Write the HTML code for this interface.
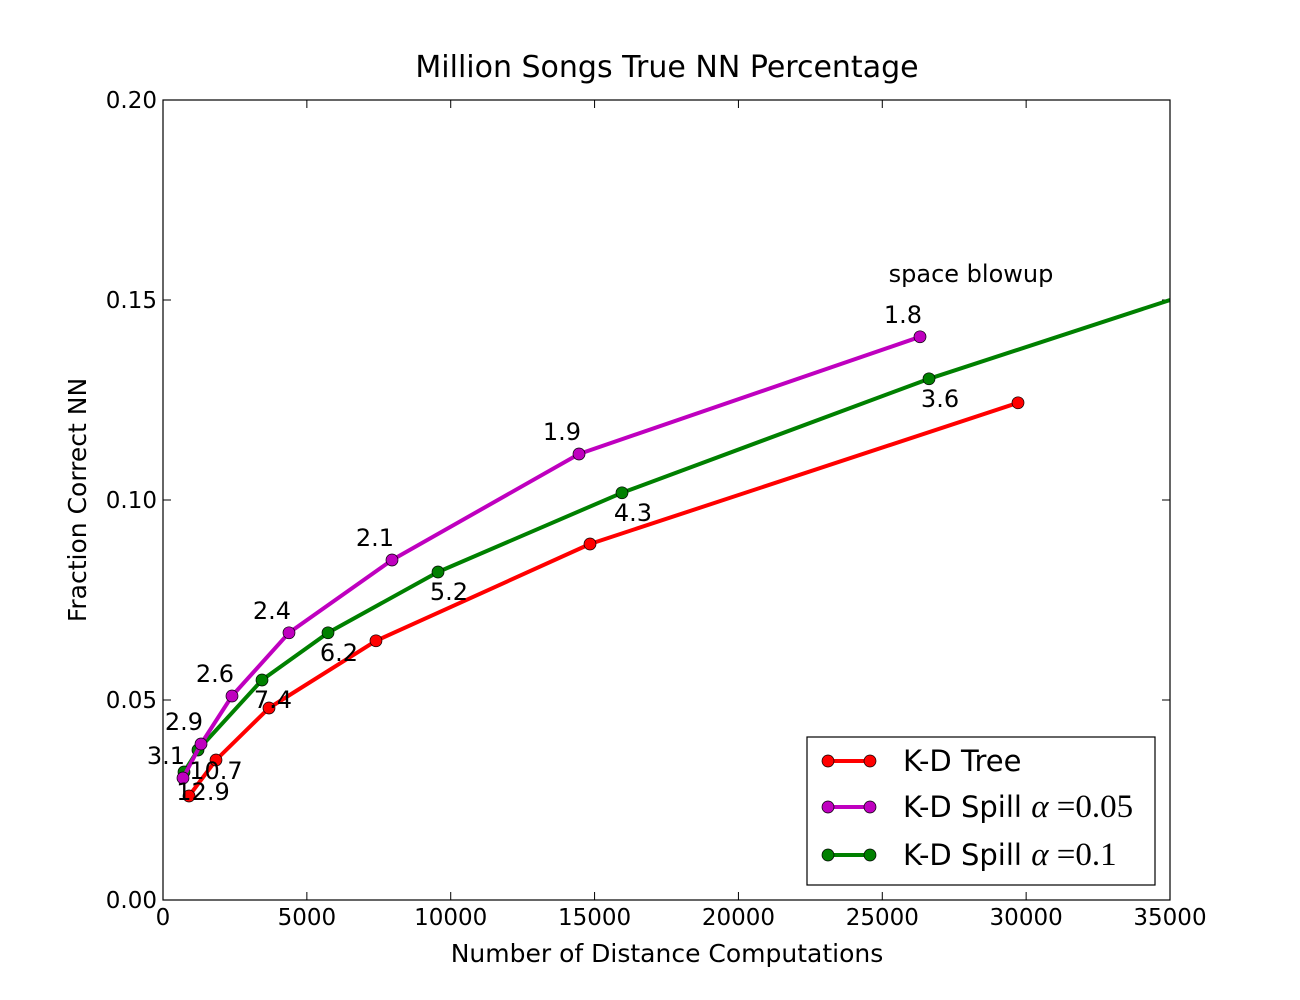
<!DOCTYPE html>
<html><head><meta charset="utf-8"><style>
body{margin:0;background:#fff;}
svg{display:block;font-family:"DejaVu Sans","Liberation Sans",sans-serif;}
</style></head><body>
<svg id="chart" width="1300" height="1000">
<rect x="0" y="0" width="1300" height="1000" fill="#fff"/>
<defs><clipPath id="clip"><rect x="163" y="100" width="1007" height="800"/></clipPath></defs>
<text x="667" y="77" font-size="30" text-anchor="middle">Million Songs True NN Percentage</text>
<text x="667" y="962" font-size="25" text-anchor="middle">Number of Distance Computations</text>
<text x="0" y="0" font-size="25" text-anchor="middle" transform="translate(86,500) rotate(-90)">Fraction Correct NN</text>
<g id="axes"></g>
<g id="series" clip-path="url(#clip)"></g>
<g id="labels"></g>
<rect x="163" y="100" width="1007" height="800" fill="none" stroke="#000" stroke-width="1.2"/>
<text x="971" y="282" font-size="24" text-anchor="middle">space blowup</text>
<g>
<rect x="807" y="737" width="348" height="148" fill="#fff" stroke="#000" stroke-width="1.2"/>
<g><line x1="828" y1="761" x2="870" y2="761" stroke="#ff0000" stroke-width="4"/><circle cx="828" cy="761" r="6" fill="#ff0000" stroke="#000" stroke-width="0.7"/><circle cx="870" cy="761" r="6" fill="#ff0000" stroke="#000" stroke-width="0.7"/><text x="903" y="771" font-size="29">K-D Tree</text></g>
<g><line x1="828" y1="807" x2="870" y2="807" stroke="#bf00bf" stroke-width="4"/><circle cx="828" cy="807" r="6" fill="#bf00bf" stroke="#000" stroke-width="0.7"/><circle cx="870" cy="807" r="6" fill="#bf00bf" stroke="#000" stroke-width="0.7"/><text x="903" y="817" font-size="29">K-D Spill <tspan font-family="Liberation Serif,serif" font-style="italic" font-size="33">α</tspan><tspan font-family="Liberation Serif,serif" font-size="33"> =0.05</tspan></text></g>
<g><line x1="828" y1="855" x2="870" y2="855" stroke="#008000" stroke-width="4"/><circle cx="828" cy="855" r="6" fill="#008000" stroke="#000" stroke-width="0.7"/><circle cx="870" cy="855" r="6" fill="#008000" stroke="#000" stroke-width="0.7"/><text x="903" y="865" font-size="29">K-D Spill <tspan font-family="Liberation Serif,serif" font-style="italic" font-size="33">α</tspan><tspan font-family="Liberation Serif,serif" font-size="33"> =0.1</tspan></text></g>
</g>
</svg>
<script>
const xTicks=[0,5000,10000,15000,20000,25000,30000,35000];
const yTicks=[0,0.05,0.10,0.15,0.20];
const yTickLabels=["0.00","0.05","0.10","0.15","0.20"];
const redX=[904,1842,3684,7403,14841,29717];
const redY=[0.026,0.035,0.048,0.0648,0.089,0.1243];
const redLabels=["12.9","10.7","7.4","","",""];
const magX=[695,1321,2398,4379,7959,14459,26311];
const magY=[0.0305,0.039,0.051,0.0668,0.085,0.1115,0.1408];
const magLabels=["3.1","2.9","2.6","2.4","2.1","1.9","1.8"];
const grnX=[730,1216,3441,5735,9558,15953,26624];
const grnY=[0.032,0.0375,0.055,0.0668,0.082,0.1018,0.1303];
const grnLabels=["","","","6.2","5.2","4.3","3.6"];
const grnExtX=[26624,35000];
const grnExtY=[0.1303,0.15];
const redDx=[14,0,4], redDy=[4,19,0];
const X=v=>163+v/35000*1007, Y=v=>900-v/0.2*800;
const NS="http://www.w3.org/2000/svg";
function mk(t,a,p){const e=document.createElementNS(NS,t);for(const k in a)e.setAttribute(k,a[k]);p.appendChild(e);return e;}
const ax=document.getElementById('axes'),sg=document.getElementById('series'),lg=document.getElementById('labels');
xTicks.forEach(t=>{const x=X(t);
mk('line',{x1:x,y1:900,x2:x,y2:892,stroke:'#000'},ax);mk('line',{x1:x,y1:100,x2:x,y2:108,stroke:'#000'},ax);
const e=mk('text',{x:x,y:925,'font-size':23,'text-anchor':'middle'},ax);e.textContent=t;

});
yTicks.forEach((t,i)=>{const y=Y(t);
mk('line',{x1:163,y1:y,x2:171,y2:y,stroke:'#000'},ax);mk('line',{x1:1170,y1:y,x2:1162,y2:y,stroke:'#000'},ax);
const e=mk('text',{x:157,y:y+8,'font-size':23,'text-anchor':'end'},ax);e.textContent=yTickLabels[i];

});
function series(xs,ys,c,name){
const g=mk('g',{},sg);


mk('polyline',{points:xs.map((x,i)=>X(x)+','+Y(ys[i])).join(' '),fill:'none',stroke:c,'stroke-width':4,'stroke-linejoin':'round'},g);
xs.forEach((x,i)=>{const p=mk('circle',{cx:X(x),cy:Y(ys[i]),r:6,fill:c,stroke:'#000','stroke-width':0.7},g);

});}
const ge=mk('polyline',{points:grnExtX.map((x,i)=>X(x)+','+Y(grnExtY[i])).join(' '),fill:'none',stroke:'#008000','stroke-width':4},sg);


series(redX,redY,'#ff0000','kd-tree-series');
series(grnX,grnY,'#008000','kd-spill-01-series');
series(magX,magY,'#bf00bf','kd-spill-005-series');
function addLabel(x,y,l){const e=mk('text',{x:x,y:y,'font-size':24,'text-anchor':'middle'},lg);e.textContent=l;

}
redLabels.forEach((l,i)=>{if(l)addLabel(X(redX[i])+redDx[i],Y(redY[i])+redDy[i],l);});
magLabels.forEach((l,i)=>{if(l)addLabel(X(magX[i])-17,Y(magY[i])-14,l);});
grnLabels.forEach((l,i)=>{if(l)addLabel(X(grnX[i])+11,Y(grnY[i])+28,l);});
</script>
</body></html>
